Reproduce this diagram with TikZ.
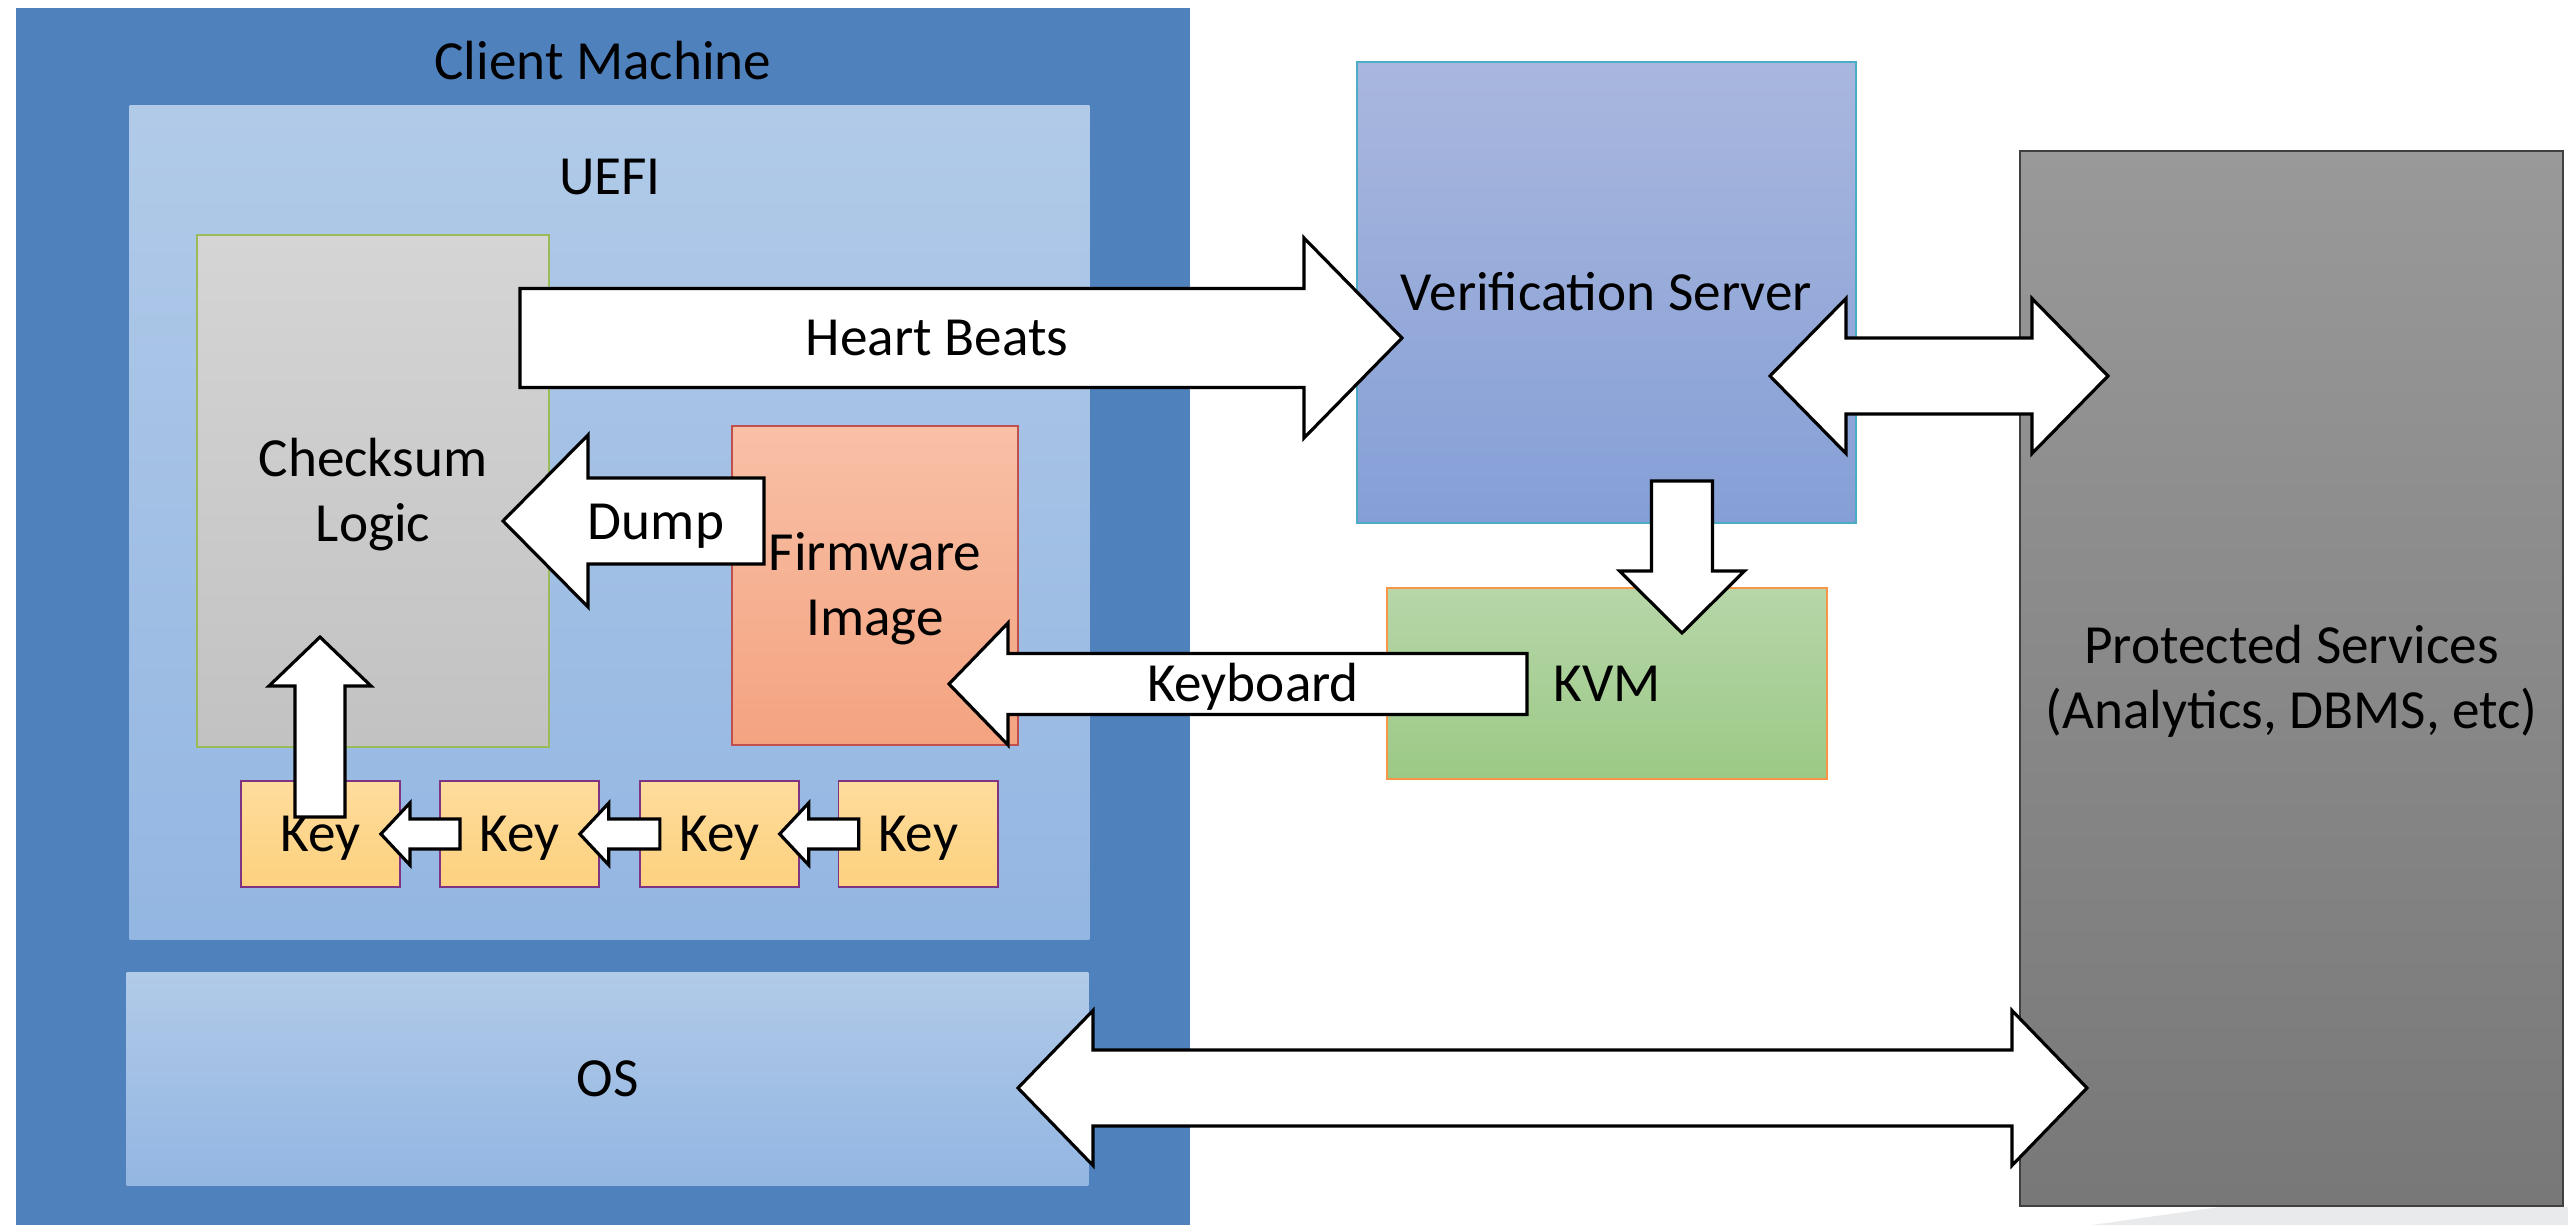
\documentclass[tikz,border=0pt]{standalone}
\usepackage{fontspec}
\setmainfont{Carlito}
\usetikzlibrary{positioning, calc}

\definecolor{clientblue}{HTML}{4F81BD}
\definecolor{paletop}{HTML}{B1CAE8}
\definecolor{palebot}{HTML}{93B6E2}
\definecolor{keytop}{HTML}{FEDC9C}
\definecolor{keybot}{HTML}{FDD17E}
\definecolor{shadowgray}{HTML}{E9EAEC}

% line strut, so text sits like in the slide
\newcommand{\sline}{\rule[-0.25em]{0pt}{1.14em}}

% block arrow: tail, tip, shaft half width, head half width, head length
\newcommand{\blockarrow}[5]{%
  \path ($(#2)!#5!(#1)$) coordinate (hb);
  \draw[blk] ($(#1)!#3!90:(#2)$) -- ($(hb)!#3!90:(#2)$) -- ($(hb)!#4!90:(#2)$)
    -- (#2) -- ($(hb)!#4!-90:(#2)$) -- ($(hb)!#3!-90:(#2)$)
    -- ($(#1)!#3!-90:(#2)$) -- cycle;
}
% two-headed block arrow: tip, tip, shaft half width, head half width, head length
\newcommand{\doublearrow}[5]{%
  \path ($(#1)!#5!(#2)$) coordinate (hba) ($(#2)!#5!(#1)$) coordinate (hbb);
  \draw[blk] (#1) -- ($(hba)!#4!90:(#2)$) -- ($(hba)!#3!90:(#2)$)
    -- ($(hbb)!#3!-90:(#1)$) -- ($(hbb)!#4!-90:(#1)$) -- (#2)
    -- ($(hbb)!#4!90:(#1)$) -- ($(hbb)!#3!90:(#1)$)
    -- ($(hba)!#3!-90:(#2)$) -- ($(hba)!#4!-90:(#2)$) -- cycle;
}

\begin{document}
\begin{tikzpicture}[x=0.01cm, y=-0.01cm,
    every node/.style={font=\fontsize{15.7}{18.5}\selectfont, inner sep=0pt,
                       execute at begin node=\sline},
    box/.style={draw, line width=0.5pt, align=center},
    pale/.style={top color=paletop, bottom color=palebot},
    keybox/.style={box, draw=violet!60!gray, top color=keytop, bottom color=keybot,
                   minimum width=1.59cm, minimum height=1.06cm},
    blk/.style={draw=black, fill=white, line width=0.9pt},
  ]
    \useasboundingbox (0,0) rectangle (2568,1225);

    \fill[shadowgray] (2092,1225) -- (2220,1207) -- (2568,1207) -- (2568,1225) -- cycle;

    % client side
    \node[fill=clientblue, minimum width=11.74cm, minimum height=12.17cm] (client) at (603,616.5) {};
    \node[anchor=base] (clienttitle) at (603,80) {Client Machine};
    \node[pale, minimum width=9.59cm, minimum height=8.33cm] (uefi) at (609.5,522.5) {};
    \node[anchor=base] (uefititle) at (610,195) {UEFI};
    \node[pale, minimum width=9.61cm, minimum height=2.12cm] (os) at (607.5,1079) {OS};

    \node[box, draw={rgb,255:red,155;green,187;blue,89}, top color=gray!33, bottom color=gray!48,
          minimum width=3.52cm, minimum height=5.12cm] (checksum) at (373,491)
      {\sline Checksum\\ \sline Logic};
    \node[box, draw={rgb,255:red,192;green,80;blue,77}, top color={rgb,255:red,248;green,192;blue,166},
          bottom color={rgb,255:red,244;green,163;blue,128},
          minimum width=2.86cm, minimum height=3.19cm] (fw) at (875,585.5)
      {\sline Firmware\\ \sline Image};

    \node[keybox] (key1) at (320.5,834) {Key};
    \node[keybox, right=0.38cm of key1] (key2) {Key};
    \node[keybox, right=0.39cm of key2] (key3) {Key};
    \node[keybox, right=0.38cm of key3] (key4) {Key};

    % server side
    \node[box, draw={rgb,255:red,75;green,172;blue,198}, top color={rgb,255:red,169;green,183;blue,222},
          bottom color={rgb,255:red,133;green,159;blue,214},
          minimum width=4.99cm, minimum height=4.61cm] (verif) at (1606.5,292.5) {Verification Server};
    \node[box, draw={rgb,255:red,247;green,150;blue,70}, top color={rgb,255:red,182;green,214;blue,168},
          bottom color={rgb,255:red,156;green,201;blue,134},
          minimum width=4.40cm, minimum height=1.91cm] (kvm) at (1607,683.5) {KVM};
    \node[box, draw=black!75, top color=black!40, bottom color=black!53,
          minimum width=5.43cm, minimum height=10.55cm] (prot) at (2291.5,678.5)
      {\sline Protected Services\\ \sline (Analytics, DBMS, etc)};

    % arrows
    \coordinate (hbtail) at (520,338);
    \coordinate (hbtip) at (1402,338);
    \blockarrow{hbtail}{hbtip}{0.495cm}{1.0cm}{0.98cm}
    \node (hbtext) at (937,338) {Heart Beats};

    \coordinate (dumptail) at (764,521);
    \coordinate (dumptip) at (503,521);
    \blockarrow{dumptail}{dumptip}{0.43cm}{0.86cm}{0.85cm}
    \node (dumptext) at (656,522) {Dump};

    \coordinate (kbtail) at (1527,684);
    \coordinate (kbtip) at (949,684);
    \blockarrow{kbtail}{kbtip}{0.305cm}{0.61cm}{0.59cm}
    \node (kbtext) at (1253,684) {Keyboard};

    \coordinate (uptail) at (320,817);
    \coordinate (uptip) at (320,637);
    \blockarrow{uptail}{uptip}{0.25cm}{0.51cm}{0.49cm}

    \foreach \a/\b in {2/1, 3/2, 4/3}{
      \blockarrow{[xshift=0.21cm]key\a.west}{[xshift=-0.2cm]key\b.east}{0.15cm}{0.31cm}{0.29cm}
    }

    \coordinate (kvmtail) at (1682,481);
    \coordinate (kvmtip) at (1682,633);
    \blockarrow{kvmtail}{kvmtip}{0.305cm}{0.625cm}{0.62cm}

    \coordinate (vpleft) at (1770,376);
    \coordinate (vpright) at (2108,376);
    \doublearrow{vpleft}{vpright}{0.38cm}{0.775cm}{0.76cm}

    \coordinate (osleft) at (1018,1088);
    \coordinate (osright) at (2087,1088);
    \doublearrow{osleft}{osright}{0.38cm}{0.775cm}{0.75cm}
\end{tikzpicture}
\end{document}
